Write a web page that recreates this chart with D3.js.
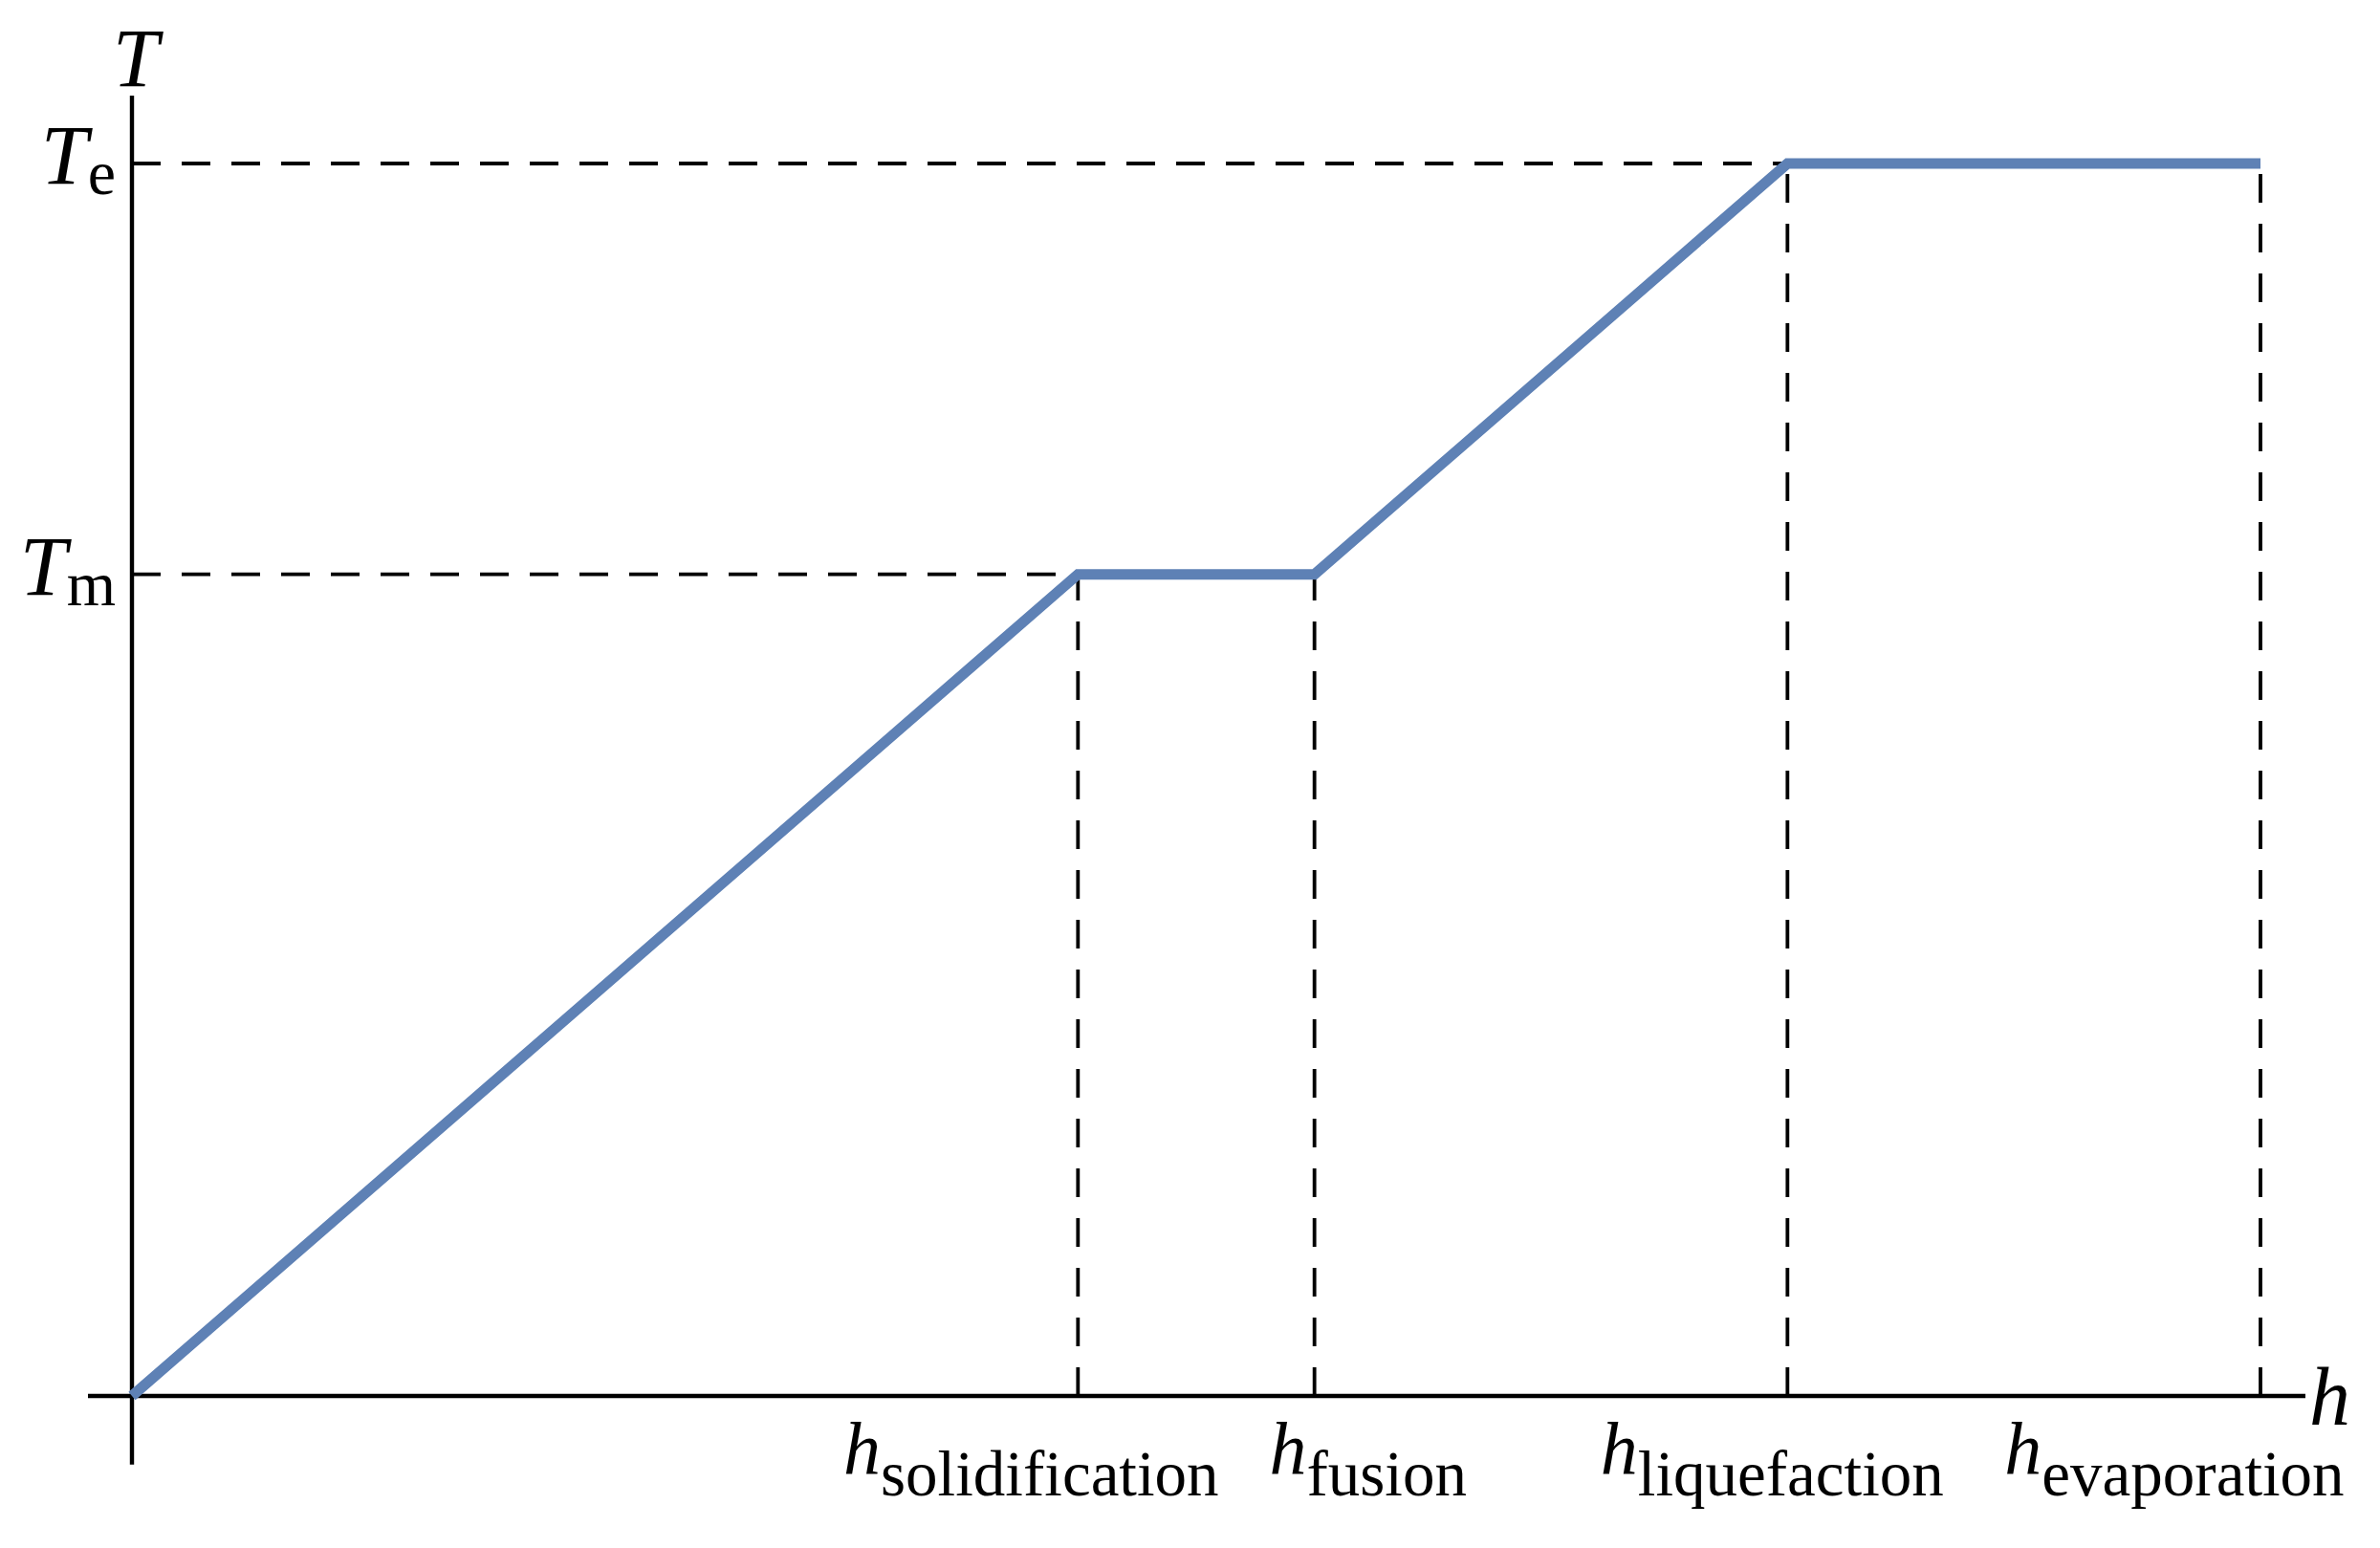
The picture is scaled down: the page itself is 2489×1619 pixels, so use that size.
<!DOCTYPE html>
<html>
<head>
<meta charset="utf-8">
<script src="https://cdn.jsdelivr.net/npm/d3@7"></script>
<style>
  html, body { margin: 0; padding: 0; background: #fff; }
  svg { display: block; }
  text { font-family: "Liberation Serif", "DejaVu Serif", serif; fill: #000; }
</style>
</head>
<body>
<div id="chart"></div>
<script>
// enthalpy marks on the h axis
var hNames = ["solidification", "fusion", "liquefaction", "evaporation"];
var hValues = [4, 5, 7, 9];
// temperature marks on the T axis
var tNames = ["m", "e"];
var tValues = [2, 3];
// the piecewise curve T(h)
var curveH = [0, 4, 5, 7, 9];
var curveT = [0, 2, 2, 3, 3];

var width = 2489, height = 1619;

var x = d3.scaleLinear().domain([0, 9]).range([138, 2364]);
var y = d3.scaleLinear().domain([0, 3]).range([1460, 171]);

var svg = d3.select("#chart").append("svg")
    .attr("width", width)
    .attr("height", height)
    .style("background-color", "#fff");

// dashed guides (drawn first so the curve sits on top)
var guides = svg.append("g").attr("class", "guides")
    .attr("stroke", "#000")
    .attr("stroke-width", 3.8)
    .attr("stroke-dasharray", "30,22")
    .attr("fill", "none");

// horizontal guides: from T axis to where the curve first reaches the level
tValues.forEach(function (t) {
    var i = curveT.indexOf(t);
    guides.append("line")
        .attr("x1", x(0)).attr("x2", x(curveH[i]))
        .attr("y1", y(t)).attr("y2", y(t));
});

// vertical guides: from h axis up to the curve
hValues.forEach(function (h) {
    var i = curveH.indexOf(h);
    guides.append("line")
        .attr("x1", x(h)).attr("x2", x(h))
        .attr("y1", y(0)).attr("y2", y(curveT[i]));
});

// axes
var axes = svg.append("g").attr("class", "axes")
    .attr("stroke", "#000")
    .attr("stroke-width", 4.4);

axes.append("line")
    .attr("x1", x(-0.186)).attr("x2", x(9.19))
    .attr("y1", y(0)).attr("y2", y(0));

axes.append("line")
    .attr("x1", x(0)).attr("x2", x(0))
    .attr("y1", y(-0.167)).attr("y2", y(3.165));

// the curve
var pts = curveH.map(function (h, i) { return [h, curveT[i]]; });
var line = d3.line()
    .x(function (d) { return x(d[0]); })
    .y(function (d) { return y(d[1]); });

svg.append("path")
    .datum(pts)
    .attr("d", line)
    .attr("fill", "none")
    .attr("stroke", "#5E81B5")
    .attr("stroke-width", 11)
    .attr("stroke-linejoin", "miter")
    .attr("stroke-linecap", "butt");

// axis titles
svg.append("text")
    .attr("x", x(0) + 4)
    .attr("y", 90)
    .attr("text-anchor", "middle")
    .style("font-style", "italic")
    .style("font-size", "86px")
    .text("T");

svg.append("text")
    .attr("x", x(9.19) + 4)
    .attr("y", 1490)
    .style("font-style", "italic")
    .style("font-size", "86px")
    .text("h");

// T tick labels
tValues.forEach(function (t, i) {
    var lab = svg.append("text")
        .attr("x", 121)
        .attr("y", y(t) + 21)
        .attr("text-anchor", "end");
    lab.append("tspan")
        .style("font-style", "italic")
        .style("font-size", "88px")
        .text("T");
    lab.append("tspan")
        .attr("dy", 11)
        .style("font-size", "66px")
        .text(tNames[i]);
});

// h tick labels (small nudges mimic the original label placement)
var hNudge = [-49, 56, -16, -90];
hValues.forEach(function (h, i) {
    var lab = svg.append("text")
        .attr("x", x(h) + hNudge[i])
        .attr("y", 1542)
        .attr("text-anchor", "middle");
    lab.append("tspan")
        .style("font-style", "italic")
        .style("font-size", "78px")
        .text("h");
    lab.append("tspan")
        .attr("dy", 22)
        .style("font-size", "67px")
        .text(hNames[i]);
});
</script>
</body>
</html>
